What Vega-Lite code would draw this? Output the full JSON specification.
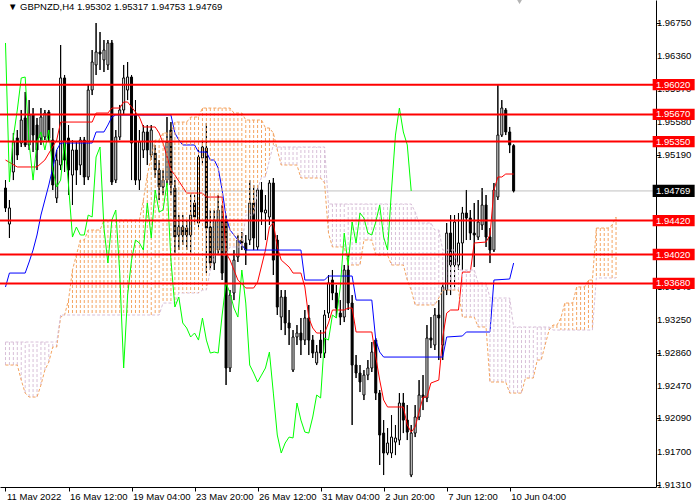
{
  "$schema": "https://vega.github.io/schema/vega-lite/v6.json",
  "width": 656,
  "height": 487,
  "padding": {"left": 0, "top": 0, "right": 44, "bottom": 13},
  "autosize": "none",
  "background": "white",
  "config": {"view": {"stroke": null}, "font": "Liberation Sans", "axis": {"grid": false, "title": null, "labelOverlap": false}},
  "datasets": {
    "candles": [
      {"i":0,"o":1.94803,"h":1.94897,"l":1.94521,"c":1.94568},
      {"i":1,"o":1.94379,"h":1.94662,"l":1.94215,"c":1.94568},
      {"i":2,"o":1.94992,"h":1.95451,"l":1.94897,"c":1.95345},
      {"i":3,"o":1.95392,"h":1.95486,"l":1.95133,"c":1.95192},
      {"i":4,"o":1.95333,"h":1.95722,"l":1.95286,"c":1.95604},
      {"i":5,"o":1.95628,"h":1.95934,"l":1.95286,"c":1.95310},
      {"i":6,"o":1.95310,"h":1.95839,"l":1.95251,"c":1.95663},
      {"i":7,"o":1.95663,"h":1.95745,"l":1.95227,"c":1.95427},
      {"i":8,"o":1.95545,"h":1.95628,"l":1.95015,"c":1.95251},
      {"i":9,"o":1.95392,"h":1.95745,"l":1.95310,"c":1.95639},
      {"i":10,"o":1.95404,"h":1.95722,"l":1.95368,"c":1.95686},
      {"i":11,"o":1.95698,"h":1.95722,"l":1.95345,"c":1.95392},
      {"i":12,"o":1.95368,"h":1.95510,"l":1.94780,"c":1.94839},
      {"i":13,"o":1.94686,"h":1.95251,"l":1.94627,"c":1.95133},
      {"i":14,"o":1.95074,"h":1.96487,"l":1.95015,"c":1.96099},
      {"i":15,"o":1.96099,"h":1.96134,"l":1.94992,"c":1.95133},
      {"i":16,"o":1.95392,"h":1.95545,"l":1.94721,"c":1.95015},
      {"i":17,"o":1.94956,"h":1.95368,"l":1.94603,"c":1.95251},
      {"i":18,"o":1.95251,"h":1.95345,"l":1.94839,"c":1.95015},
      {"i":19,"o":1.95074,"h":1.95404,"l":1.94956,"c":1.95368},
      {"i":20,"o":1.95368,"h":1.95404,"l":1.94839,"c":1.94933},
      {"i":21,"o":1.94933,"h":1.96016,"l":1.94897,"c":1.95957},
      {"i":22,"o":1.95957,"h":1.96428,"l":1.95898,"c":1.96287},
      {"i":23,"o":1.96252,"h":1.96746,"l":1.96134,"c":1.96405},
      {"i":24,"o":1.96405,"h":1.96640,"l":1.96193,"c":1.96381},
      {"i":25,"o":1.96311,"h":1.96546,"l":1.96169,"c":1.96428},
      {"i":26,"o":1.96252,"h":1.96546,"l":1.96193,"c":1.96511},
      {"i":27,"o":1.96511,"h":1.96546,"l":1.94839,"c":1.94874},
      {"i":28,"o":1.94897,"h":1.95486,"l":1.94862,"c":1.95404},
      {"i":29,"o":1.95404,"h":1.95781,"l":1.95368,"c":1.95722},
      {"i":30,"o":1.95722,"h":1.96252,"l":1.95663,"c":1.96099},
      {"i":31,"o":1.95957,"h":1.96287,"l":1.95839,"c":1.96110},
      {"i":32,"o":1.96110,"h":1.96134,"l":1.94897,"c":1.95333},
      {"i":33,"o":1.95663,"h":1.95839,"l":1.94839,"c":1.94897},
      {"i":34,"o":1.94897,"h":1.95486,"l":1.94780,"c":1.95345},
      {"i":35,"o":1.95251,"h":1.95545,"l":1.95157,"c":1.95463},
      {"i":36,"o":1.95463,"h":1.95545,"l":1.95074,"c":1.95251},
      {"i":37,"o":1.95192,"h":1.95545,"l":1.95133,"c":1.95486},
      {"i":38,"o":1.95215,"h":1.95310,"l":1.94921,"c":1.95015},
      {"i":39,"o":1.95015,"h":1.95133,"l":1.94662,"c":1.94815},
      {"i":40,"o":1.94815,"h":1.95015,"l":1.94721,"c":1.94897},
      {"i":41,"o":1.94897,"h":1.95639,"l":1.94839,"c":1.95345},
      {"i":42,"o":1.95486,"h":1.95580,"l":1.94721,"c":1.94839},
      {"i":43,"o":1.94803,"h":1.94897,"l":1.94038,"c":1.94226},
      {"i":44,"o":1.94250,"h":1.94485,"l":1.94073,"c":1.94344},
      {"i":45,"o":1.94344,"h":1.94485,"l":1.94132,"c":1.94250},
      {"i":46,"o":1.94332,"h":1.94427,"l":1.94073,"c":1.94250},
      {"i":47,"o":1.94250,"h":1.94744,"l":1.94038,"c":1.94485},
      {"i":48,"o":1.94627,"h":1.94721,"l":1.94368,"c":1.94462},
      {"i":49,"o":1.94391,"h":1.95251,"l":1.94332,"c":1.95168},
      {"i":50,"o":1.95157,"h":1.95368,"l":1.95074,"c":1.95286},
      {"i":51,"o":1.95274,"h":1.95569,"l":1.93802,"c":1.94332},
      {"i":52,"o":1.94344,"h":1.94544,"l":1.93838,"c":1.93920},
      {"i":53,"o":1.93920,"h":1.94544,"l":1.93838,"c":1.94427},
      {"i":54,"o":1.94073,"h":1.94721,"l":1.94014,"c":1.94544},
      {"i":55,"o":1.94427,"h":1.94603,"l":1.93720,"c":1.93802},
      {"i":56,"o":1.94427,"h":1.94485,"l":1.92484,"c":1.92684},
      {"i":57,"o":1.92684,"h":1.93602,"l":1.92637,"c":1.93543},
      {"i":58,"o":1.93567,"h":1.94073,"l":1.93484,"c":1.93955},
      {"i":59,"o":1.93991,"h":1.94250,"l":1.93932,"c":1.94191},
      {"i":60,"o":1.94191,"h":1.94285,"l":1.94073,"c":1.94156},
      {"i":61,"o":1.94156,"h":1.94250,"l":1.93897,"c":1.94073},
      {"i":62,"o":1.94191,"h":1.94897,"l":1.94132,"c":1.94627},
      {"i":63,"o":1.94627,"h":1.94839,"l":1.94073,"c":1.94215},
      {"i":64,"o":1.94109,"h":1.94839,"l":1.94073,"c":1.94780},
      {"i":65,"o":1.94780,"h":1.94874,"l":1.94368,"c":1.94521},
      {"i":66,"o":1.94509,"h":1.94721,"l":1.94191,"c":1.94544},
      {"i":67,"o":1.94462,"h":1.94897,"l":1.94368,"c":1.94862},
      {"i":68,"o":1.94862,"h":1.94921,"l":1.93779,"c":1.93955},
      {"i":69,"o":1.94191,"h":1.94250,"l":1.93308,"c":1.93402},
      {"i":70,"o":1.93284,"h":1.93602,"l":1.93131,"c":1.93520},
      {"i":71,"o":1.93520,"h":1.93602,"l":1.93072,"c":1.93214},
      {"i":72,"o":1.93214,"h":1.93367,"l":1.92955,"c":1.93155},
      {"i":73,"o":1.92660,"h":1.93131,"l":1.92637,"c":1.93049},
      {"i":74,"o":1.93049,"h":1.93190,"l":1.92955,"c":1.93096},
      {"i":75,"o":1.93096,"h":1.93273,"l":1.92837,"c":1.93013},
      {"i":76,"o":1.93013,"h":1.93367,"l":1.92955,"c":1.93273},
      {"i":77,"o":1.93273,"h":1.93426,"l":1.92837,"c":1.93013},
      {"i":78,"o":1.93013,"h":1.93072,"l":1.92802,"c":1.92860},
      {"i":79,"o":1.92743,"h":1.92955,"l":1.92719,"c":1.92872},
      {"i":80,"o":1.93013,"h":1.93131,"l":1.92802,"c":1.92860},
      {"i":81,"o":1.92860,"h":1.93367,"l":1.92802,"c":1.93308},
      {"i":82,"o":1.93331,"h":1.93779,"l":1.93273,"c":1.93685},
      {"i":83,"o":1.93720,"h":1.93838,"l":1.93484,"c":1.93567},
      {"i":84,"o":1.93567,"h":1.93661,"l":1.93273,"c":1.93390},
      {"i":85,"o":1.93331,"h":1.93484,"l":1.93190,"c":1.93284},
      {"i":86,"o":1.93284,"h":1.93897,"l":1.93225,"c":1.93838},
      {"i":87,"o":1.93838,"h":1.94014,"l":1.93367,"c":1.93449},
      {"i":88,"o":1.93449,"h":1.93543,"l":1.92013,"c":1.92719},
      {"i":89,"o":1.92719,"h":1.92837,"l":1.92566,"c":1.92625},
      {"i":90,"o":1.92625,"h":1.92719,"l":1.92401,"c":1.92519},
      {"i":91,"o":1.92366,"h":1.92660,"l":1.92307,"c":1.92601},
      {"i":92,"o":1.92601,"h":1.92778,"l":1.92542,"c":1.92684},
      {"i":93,"o":1.92684,"h":1.92990,"l":1.92637,"c":1.92872},
      {"i":94,"o":1.93013,"h":1.93037,"l":1.92307,"c":1.92389},
      {"i":95,"o":1.92389,"h":1.92425,"l":1.91542,"c":1.91895},
      {"i":96,"o":1.91918,"h":1.92071,"l":1.91424,"c":1.91683},
      {"i":97,"o":1.91683,"h":1.91977,"l":1.91659,"c":1.91801},
      {"i":98,"o":1.91683,"h":1.92130,"l":1.91624,"c":1.91871},
      {"i":99,"o":1.91812,"h":1.92013,"l":1.91659,"c":1.91860},
      {"i":100,"o":1.91836,"h":1.92389,"l":1.91777,"c":1.92272},
      {"i":101,"o":1.92272,"h":1.92389,"l":1.91918,"c":1.92071},
      {"i":102,"o":1.92071,"h":1.92248,"l":1.91836,"c":1.91930},
      {"i":103,"o":1.91424,"h":1.92013,"l":1.91400,"c":1.91918},
      {"i":104,"o":1.91918,"h":1.92248,"l":1.91871,"c":1.92107},
      {"i":105,"o":1.92107,"h":1.92542,"l":1.92071,"c":1.92366},
      {"i":106,"o":1.92366,"h":1.92601,"l":1.92189,"c":1.92331},
      {"i":107,"o":1.92331,"h":1.93190,"l":1.92283,"c":1.93037},
      {"i":108,"o":1.93037,"h":1.93284,"l":1.92919,"c":1.93013},
      {"i":109,"o":1.92955,"h":1.93390,"l":1.92896,"c":1.93308},
      {"i":110,"o":1.93308,"h":1.93484,"l":1.92778,"c":1.93273},
      {"i":111,"o":1.92955,"h":1.93685,"l":1.92778,"c":1.93638},
      {"i":112,"o":1.93602,"h":1.94391,"l":1.93543,"c":1.94273},
      {"i":113,"o":1.94273,"h":1.94485,"l":1.93543,"c":1.93897},
      {"i":114,"o":1.93897,"h":1.94485,"l":1.93602,"c":1.94403},
      {"i":115,"o":1.93897,"h":1.94509,"l":1.93838,"c":1.94156},
      {"i":116,"o":1.94156,"h":1.94580,"l":1.93838,"c":1.94509},
      {"i":117,"o":1.94509,"h":1.94780,"l":1.94191,"c":1.94450},
      {"i":118,"o":1.94450,"h":1.94544,"l":1.94191,"c":1.94273},
      {"i":119,"o":1.94273,"h":1.94627,"l":1.93873,"c":1.94250},
      {"i":120,"o":1.94226,"h":1.94662,"l":1.94191,"c":1.94403},
      {"i":121,"o":1.94368,"h":1.94803,"l":1.94309,"c":1.94603},
      {"i":122,"o":1.94603,"h":1.94721,"l":1.94109,"c":1.94226},
      {"i":123,"o":1.94226,"h":1.94332,"l":1.93920,"c":1.94073},
      {"i":124,"o":1.94073,"h":1.94862,"l":1.94050,"c":1.94780},
      {"i":125,"o":1.94697,"h":1.96016,"l":1.94662,"c":1.95427},
      {"i":126,"o":1.95427,"h":1.95839,"l":1.95404,"c":1.95745},
      {"i":127,"o":1.95722,"h":1.95745,"l":1.95427,"c":1.95463},
      {"i":128,"o":1.95463,"h":1.95522,"l":1.95215,"c":1.95310},
      {"i":129,"o":1.95302,"h":1.95317,"l":1.94753,"c":1.94769}
    ],
    "tenkan": [
      {"i":0,"v":1.95133},{"i":3,"v":1.95051},{"i":8,"v":1.95051},{"i":10,"v":1.95133},
      {"i":13,"v":1.95368},{"i":14,"v":1.95580},{"i":22,"v":1.95580},{"i":23,"v":1.95686},
      {"i":26,"v":1.95686},{"i":27,"v":1.95745},{"i":29,"v":1.95745},{"i":30,"v":1.95816},
      {"i":31,"v":1.95816},{"i":32,"v":1.95757},{"i":34,"v":1.95639},{"i":35,"v":1.95522},
      {"i":38,"v":1.95522},{"i":39,"v":1.95451},{"i":40,"v":1.95333},{"i":42,"v":1.95015},
      {"i":43,"v":1.94956},{"i":45,"v":1.94815},{"i":46,"v":1.94744},{"i":50,"v":1.94744},
      {"i":51,"v":1.94697},{"i":55,"v":1.94697},{"i":56,"v":1.94038},{"i":57,"v":1.93955},
      {"i":59,"v":1.93720},{"i":61,"v":1.93626},{"i":63,"v":1.93626},{"i":64,"v":1.93696},
      {"i":66,"v":1.94073},{"i":67,"v":1.94344},{"i":68,"v":1.94391},{"i":69,"v":1.94109},
      {"i":70,"v":1.93955},{"i":72,"v":1.93873},{"i":73,"v":1.93802},{"i":75,"v":1.93802},
      {"i":76,"v":1.93638},{"i":77,"v":1.93273},{"i":78,"v":1.93155},{"i":79,"v":1.93096},
      {"i":81,"v":1.93096},{"i":82,"v":1.93214},{"i":83,"v":1.93367},{"i":86,"v":1.93367},
      {"i":87,"v":1.93390},{"i":88,"v":1.93390},{"i":89,"v":1.93108},{"i":93,"v":1.93108},
      {"i":94,"v":1.92813},{"i":95,"v":1.92542},{"i":96,"v":1.92307},{"i":97,"v":1.92225},
      {"i":101,"v":1.92225},{"i":102,"v":1.92013},{"i":103,"v":1.91930},{"i":104,"v":1.91989},
      {"i":106,"v":1.92342},{"i":107,"v":1.92342},{"i":108,"v":1.92507},{"i":110,"v":1.92542},
      {"i":111,"v":1.93049},{"i":112,"v":1.93331},{"i":113,"v":1.93367},{"i":115,"v":1.93367},
      {"i":116,"v":1.93814},{"i":118,"v":1.93814},{"i":119,"v":1.94156},{"i":122,"v":1.94167},
      {"i":123,"v":1.94250},{"i":124,"v":1.94780},{"i":125,"v":1.94933},{"i":126,"v":1.94933},
      {"i":127,"v":1.94968},{"i":129,"v":1.94968}
    ],
    "kijun": [
      {"i":0,"v":1.93638},{"i":1,"v":1.93802},{"i":5,"v":1.93802},{"i":6,"v":1.93932},
      {"i":7,"v":1.94073},{"i":8,"v":1.94250},{"i":9,"v":1.94485},{"i":10,"v":1.94662},
      {"i":11,"v":1.94839},{"i":12,"v":1.95039},{"i":13,"v":1.95251},{"i":14,"v":1.95333},
      {"i":22,"v":1.95333},{"i":23,"v":1.95463},{"i":25,"v":1.95463},{"i":26,"v":1.95545},
      {"i":27,"v":1.95639},{"i":28,"v":1.95663},{"i":42,"v":1.95663},{"i":43,"v":1.95451},
      {"i":44,"v":1.95368},{"i":45,"v":1.95310},{"i":48,"v":1.95310},{"i":49,"v":1.95227},
      {"i":51,"v":1.95227},{"i":52,"v":1.95133},{"i":53,"v":1.95133},{"i":54,"v":1.95039},
      {"i":55,"v":1.94780},{"i":56,"v":1.94462},{"i":57,"v":1.94309},{"i":59,"v":1.94191},
      {"i":60,"v":1.94132},{"i":61,"v":1.94073},{"i":75,"v":1.94073},{"i":76,"v":1.93720},
      {"i":81,"v":1.93720},{"i":82,"v":1.93767},{"i":88,"v":1.93767},{"i":89,"v":1.93484},
      {"i":93,"v":1.93484},{"i":94,"v":1.93013},{"i":95,"v":1.92872},{"i":96,"v":1.92813},
      {"i":111,"v":1.92813},{"i":112,"v":1.93049},{"i":116,"v":1.93061},{"i":117,"v":1.93108},
      {"i":123,"v":1.93108},{"i":124,"v":1.93720},{"i":128,"v":1.93732},{"i":129,"v":1.93920}
    ],
    "chikou": [
      {"i":0,"v":1.96511},{"i":1,"v":1.94874},{"i":2,"v":1.95404},{"i":3,"v":1.95722},
      {"i":4,"v":1.96099},{"i":5,"v":1.96110},{"i":6,"v":1.95333},{"i":7,"v":1.94897},
      {"i":8,"v":1.95345},{"i":9,"v":1.95463},{"i":10,"v":1.95251},{"i":11,"v":1.95486},
      {"i":12,"v":1.95015},{"i":13,"v":1.94815},{"i":14,"v":1.94897},{"i":15,"v":1.95345},
      {"i":16,"v":1.94839},{"i":17,"v":1.94226},{"i":18,"v":1.94344},{"i":19,"v":1.94250},
      {"i":20,"v":1.94250},{"i":21,"v":1.94485},{"i":22,"v":1.94462},{"i":23,"v":1.95168},
      {"i":24,"v":1.95286},{"i":25,"v":1.94332},{"i":26,"v":1.93920},{"i":27,"v":1.94427},
      {"i":28,"v":1.94544},{"i":29,"v":1.93802},{"i":30,"v":1.92684},{"i":31,"v":1.93543},
      {"i":32,"v":1.93955},{"i":33,"v":1.94191},{"i":34,"v":1.94156},{"i":35,"v":1.94073},
      {"i":36,"v":1.94627},{"i":37,"v":1.94215},{"i":38,"v":1.94780},{"i":39,"v":1.94521},
      {"i":40,"v":1.94544},{"i":41,"v":1.94862},{"i":42,"v":1.93955},{"i":43,"v":1.93402},
      {"i":44,"v":1.93520},{"i":45,"v":1.93214},{"i":46,"v":1.93155},{"i":47,"v":1.93049},
      {"i":48,"v":1.93096},{"i":49,"v":1.93013},{"i":50,"v":1.93273},{"i":51,"v":1.93013},
      {"i":52,"v":1.92860},{"i":53,"v":1.92872},{"i":54,"v":1.92860},{"i":55,"v":1.93308},
      {"i":56,"v":1.93685},{"i":57,"v":1.93567},{"i":58,"v":1.93390},{"i":59,"v":1.93284},
      {"i":60,"v":1.93838},{"i":61,"v":1.93449},{"i":62,"v":1.92719},{"i":63,"v":1.92625},
      {"i":64,"v":1.92519},{"i":65,"v":1.92601},{"i":66,"v":1.92684},{"i":67,"v":1.92872},
      {"i":68,"v":1.92389},{"i":69,"v":1.91895},{"i":70,"v":1.91683},{"i":71,"v":1.91801},
      {"i":72,"v":1.91871},{"i":73,"v":1.91860},{"i":74,"v":1.92272},{"i":75,"v":1.92071},
      {"i":76,"v":1.91930},{"i":77,"v":1.91918},{"i":78,"v":1.92107},{"i":79,"v":1.92366},
      {"i":80,"v":1.92331},{"i":81,"v":1.93037},{"i":82,"v":1.93013},{"i":83,"v":1.93308},
      {"i":84,"v":1.93273},{"i":85,"v":1.93638},{"i":86,"v":1.94273},{"i":87,"v":1.93897},
      {"i":88,"v":1.94403},{"i":89,"v":1.94156},{"i":90,"v":1.94509},{"i":91,"v":1.94450},
      {"i":92,"v":1.94273},{"i":93,"v":1.94250},{"i":94,"v":1.94403},{"i":95,"v":1.94603},
      {"i":96,"v":1.94226},{"i":97,"v":1.94073},{"i":98,"v":1.94780},{"i":99,"v":1.95427},
      {"i":100,"v":1.95745},{"i":101,"v":1.95463},{"i":102,"v":1.95310},{"i":103,"v":1.94769}
    ],
    "cloud": [
      {"i":0,"sa":1.92719,"sb":1.92990},{"i":1,"sa":1.92719,"sb":1.92990},{"i":2,"sa":1.92719,"sb":1.92990},
      {"i":3,"sa":1.92719,"sb":1.92990},{"i":4,"sa":1.92542,"sb":1.92990},{"i":5,"sa":1.92389,"sb":1.92990},
      {"i":6,"sa":1.92342,"sb":1.92990},{"i":7,"sa":1.92342,"sb":1.92990},{"i":8,"sa":1.92342,"sb":1.92990},
      {"i":9,"sa":1.92484,"sb":1.92990},{"i":10,"sa":1.92660,"sb":1.92990},{"i":11,"sa":1.92754,"sb":1.92990},
      {"i":12,"sa":1.92931,"sb":1.92990},{"i":13,"sa":1.92931,"sb":1.92990},{"i":14,"sa":1.93284,"sb":1.93308},
      {"i":15,"sa":1.93308,"sb":1.93308},{"i":16,"sa":1.93484,"sb":1.93308},{"i":17,"sa":1.93838,"sb":1.93308},
      {"i":18,"sa":1.94014,"sb":1.93308},{"i":19,"sa":1.94191,"sb":1.93308},{"i":20,"sa":1.94191,"sb":1.93308},
      {"i":21,"sa":1.94309,"sb":1.93308},{"i":22,"sa":1.94309,"sb":1.93308},{"i":23,"sa":1.94309,"sb":1.93308},
      {"i":24,"sa":1.94309,"sb":1.93308},{"i":25,"sa":1.94427,"sb":1.93308},{"i":26,"sa":1.94427,"sb":1.93308},
      {"i":27,"sa":1.94427,"sb":1.93308},{"i":28,"sa":1.94427,"sb":1.93308},{"i":29,"sa":1.94427,"sb":1.93308},
      {"i":30,"sa":1.94427,"sb":1.93308},{"i":31,"sa":1.94427,"sb":1.93308},{"i":32,"sa":1.94427,"sb":1.93308},
      {"i":33,"sa":1.94427,"sb":1.93308},{"i":34,"sa":1.94427,"sb":1.93308},{"i":35,"sa":1.94662,"sb":1.93308},
      {"i":36,"sa":1.94956,"sb":1.93308},{"i":37,"sa":1.95168,"sb":1.93308},{"i":38,"sa":1.95368,"sb":1.93308},
      {"i":39,"sa":1.95368,"sb":1.93308},{"i":40,"sa":1.95451,"sb":1.93449},{"i":41,"sa":1.95451,"sb":1.93449},
      {"i":42,"sa":1.95451,"sb":1.93449},{"i":43,"sa":1.95580,"sb":1.93449},{"i":44,"sa":1.95580,"sb":1.93567},
      {"i":45,"sa":1.95580,"sb":1.93567},{"i":46,"sa":1.95580,"sb":1.93567},{"i":47,"sa":1.95639,"sb":1.93567},
      {"i":48,"sa":1.95639,"sb":1.93567},{"i":49,"sa":1.95639,"sb":1.93567},{"i":50,"sa":1.95745,"sb":1.93602},
      {"i":51,"sa":1.95745,"sb":1.93602},{"i":52,"sa":1.95745,"sb":1.93838},{"i":53,"sa":1.95745,"sb":1.94014},
      {"i":54,"sa":1.95745,"sb":1.94014},{"i":55,"sa":1.95745,"sb":1.94014},{"i":56,"sa":1.95745,"sb":1.94014},
      {"i":57,"sa":1.95745,"sb":1.94109},{"i":58,"sa":1.95686,"sb":1.94109},{"i":59,"sa":1.95686,"sb":1.94109},
      {"i":60,"sa":1.95686,"sb":1.94109},{"i":61,"sa":1.95604,"sb":1.94485},{"i":62,"sa":1.95604,"sb":1.94485},
      {"i":63,"sa":1.95604,"sb":1.94485},{"i":64,"sa":1.95604,"sb":1.94780},{"i":65,"sa":1.95604,"sb":1.94933},
      {"i":66,"sa":1.95510,"sb":1.94933},{"i":67,"sa":1.95510,"sb":1.95133},{"i":68,"sa":1.95451,"sb":1.95310},
      {"i":69,"sa":1.95251,"sb":1.95286},{"i":70,"sa":1.95074,"sb":1.95286},{"i":71,"sa":1.95074,"sb":1.95286},
      {"i":72,"sa":1.95074,"sb":1.95286},{"i":73,"sa":1.95074,"sb":1.95286},{"i":74,"sa":1.95074,"sb":1.95286},
      {"i":75,"sa":1.94921,"sb":1.95286},{"i":76,"sa":1.94921,"sb":1.95286},{"i":77,"sa":1.94921,"sb":1.95286},
      {"i":78,"sa":1.94921,"sb":1.95286},{"i":79,"sa":1.94921,"sb":1.95286},{"i":80,"sa":1.94921,"sb":1.95286},
      {"i":81,"sa":1.94862,"sb":1.95286},{"i":82,"sa":1.94273,"sb":1.94615},{"i":83,"sa":1.94109,"sb":1.94615},
      {"i":84,"sa":1.94109,"sb":1.94615},{"i":85,"sa":1.94109,"sb":1.94615},{"i":86,"sa":1.94109,"sb":1.94615},
      {"i":87,"sa":1.93897,"sb":1.94615},{"i":88,"sa":1.93897,"sb":1.94615},{"i":89,"sa":1.93897,"sb":1.94615},
      {"i":90,"sa":1.93897,"sb":1.94615},{"i":91,"sa":1.94191,"sb":1.94615},{"i":92,"sa":1.94191,"sb":1.94615},
      {"i":93,"sa":1.94191,"sb":1.94615},{"i":94,"sa":1.94014,"sb":1.94615},{"i":95,"sa":1.94014,"sb":1.94615},
      {"i":96,"sa":1.94014,"sb":1.94615},{"i":97,"sa":1.94014,"sb":1.94615},{"i":98,"sa":1.93897,"sb":1.94615},
      {"i":99,"sa":1.93897,"sb":1.94615},{"i":100,"sa":1.93897,"sb":1.94615},{"i":101,"sa":1.93897,"sb":1.94615},
      {"i":102,"sa":1.93720,"sb":1.94615},{"i":103,"sa":1.93602,"sb":1.94615},{"i":104,"sa":1.93426,"sb":1.94521},
      {"i":105,"sa":1.93426,"sb":1.94391},{"i":106,"sa":1.93426,"sb":1.94391},{"i":107,"sa":1.93426,"sb":1.94391},
      {"i":108,"sa":1.93426,"sb":1.94391},{"i":109,"sa":1.93426,"sb":1.94309},{"i":110,"sa":1.93508,"sb":1.94309},
      {"i":111,"sa":1.93602,"sb":1.94073},{"i":112,"sa":1.93602,"sb":1.94073},{"i":113,"sa":1.93602,"sb":1.94073},
      {"i":114,"sa":1.93602,"sb":1.94073},{"i":115,"sa":1.93602,"sb":1.93838},{"i":116,"sa":1.93284,"sb":1.93838},
      {"i":117,"sa":1.93284,"sb":1.93838},{"i":118,"sa":1.93284,"sb":1.93838},{"i":119,"sa":1.93284,"sb":1.93838},
      {"i":120,"sa":1.93167,"sb":1.93685},{"i":121,"sa":1.93167,"sb":1.93685},{"i":122,"sa":1.93167,"sb":1.93685},
      {"i":123,"sa":1.92519,"sb":1.93508},{"i":124,"sa":1.92519,"sb":1.93508},{"i":125,"sa":1.92519,"sb":1.93508},
      {"i":126,"sa":1.92519,"sb":1.93508},{"i":127,"sa":1.92519,"sb":1.93508},{"i":128,"sa":1.92389,"sb":1.93508},
      {"i":129,"sa":1.92389,"sb":1.93167},{"i":130,"sa":1.92389,"sb":1.93167},{"i":131,"sa":1.92389,"sb":1.93167},
      {"i":132,"sa":1.92566,"sb":1.93167},{"i":133,"sa":1.92566,"sb":1.93167},{"i":134,"sa":1.92566,"sb":1.93167},
      {"i":135,"sa":1.92778,"sb":1.93167},{"i":136,"sa":1.92778,"sb":1.93167},{"i":137,"sa":1.92955,"sb":1.93167},
      {"i":138,"sa":1.93131,"sb":1.93167},{"i":139,"sa":1.93190,"sb":1.93131},{"i":140,"sa":1.93190,"sb":1.93131},
      {"i":141,"sa":1.93273,"sb":1.93131},{"i":142,"sa":1.93449,"sb":1.93131},{"i":143,"sa":1.93449,"sb":1.93131},
      {"i":144,"sa":1.93449,"sb":1.93131},{"i":145,"sa":1.93638,"sb":1.93131},{"i":146,"sa":1.93638,"sb":1.93131},
      {"i":147,"sa":1.93638,"sb":1.93131},{"i":148,"sa":1.93720,"sb":1.93131},{"i":149,"sa":1.93720,"sb":1.93131},
      {"i":150,"sa":1.94332,"sb":1.93744},{"i":151,"sa":1.94332,"sb":1.93744},{"i":152,"sa":1.94332,"sb":1.93744},
      {"i":153,"sa":1.94332,"sb":1.93744},{"i":154,"sa":1.94368,"sb":1.93744},{"i":155,"sa":1.94462,"sb":1.93744}
    ],
    "levels": [{"p":1.9602},{"p":1.9567},{"p":1.9535},{"p":1.9442},{"p":1.9402},{"p":1.9368}],
    "bid": [{"p":1.94769}],
    "yticks": [{"p":1.9131},{"p":1.917},{"p":1.9209},{"p":1.9247},{"p":1.9286},{"p":1.9325},{"p":1.9364},{"p":1.9402},{"p":1.9441},{"p":1.948},{"p":1.9519},{"p":1.9558},{"p":1.9597},{"p":1.9636},{"p":1.9675}],
    "header": [{"t":"▼  GBPNZD,H4  1.95302 1.95317 1.94753 1.94769"}]
  },
  "layer": [
    {
      "data": {"name": "candles"},
      "mark": {"type": "rule", "color": "black", "strokeWidth": 1},
      "encoding": {
        "x": {
          "field": "i", "type": "quantitative", "title": null,
          "scale": {"domain": [-0.125, 163.875], "nice": false, "zero": false},
          "axis": {
            "title": null, "grid": false, "orient": "bottom",
            "values": [0, 16, 32, 48, 64, 80, 96, 112, 128],
            "labelExpr": "['11 May 2022','16 May 12:00','19 May 04:00','23 May 20:00','26 May 12:00','31 May 04:00','2 Jun 20:00','7 Jun 12:00','10 Jun 04:00'][datum.value / 16]",
            "labelAlign": "left", "labelBaseline": "top", "labelPadding": 0, "labelOffset": 1,
            "labelFlush": false, "labelOverlap": false,
            "labelFont": "Liberation Sans", "labelFontSize": 9.5, "labelColor": "black",
            "tickSize": 4, "tickColor": "black", "domainColor": "black"
          }
        },
        "y": {
          "field": "l", "type": "quantitative", "title": null,
          "scale": {"domain": [1.91283, 1.97017], "nice": false, "zero": false},
          "axis": {
            "title": null, "grid": false, "orient": "right", "labels": false,
            "values": [1.9131, 1.917, 1.9209, 1.9247, 1.9286, 1.9325, 1.9364, 1.9402, 1.9441, 1.948, 1.9519, 1.9558, 1.9597, 1.9636, 1.9675],
            "tickSize": 4, "tickColor": "black", "domainColor": "black"
          }
        },
        "y2": {"field": "h"}
      }
    },
    {
      "data": {"name": "bid"},
      "mark": {"type": "rule", "color": "#C0C0C0", "strokeWidth": 1},
      "encoding": {
        "y": {"field": "p", "type": "quantitative", "title": null, "scale": {"domain": [1.91283, 1.97017], "nice": false, "zero": false}}
      }
    },
    {
      "data": {"name": "candles"},
      "mark": {"type": "rule", "color": "black", "strokeWidth": 1},
      "encoding": {
        "x": {"field": "i", "type": "quantitative", "title": null, "scale": {"domain": [-0.125, 163.875], "nice": false, "zero": false}},
        "y": {"field": "l", "type": "quantitative", "title": null, "scale": {"domain": [1.91283, 1.97017], "nice": false, "zero": false}},
        "y2": {"field": "h"}
      }
    },
    {
      "data": {"name": "candles"},
      "mark": {"type": "bar", "width": 2, "stroke": "black", "strokeWidth": 1},
      "encoding": {
        "x": {"field": "i", "type": "quantitative", "title": null, "scale": {"domain": [-0.125, 163.875], "nice": false, "zero": false}},
        "y": {"field": "o", "type": "quantitative", "title": null, "scale": {"domain": [1.91283, 1.97017], "nice": false, "zero": false}},
        "y2": {"field": "c"},
        "fill": {"condition": {"test": "datum.c >= datum.o", "value": "white"}, "value": "black"}
      }
    },
    {
      "data": {"name": "tenkan"},
      "mark": {"type": "line", "color": "#FF0000", "strokeWidth": 1},
      "encoding": {
        "x": {"field": "i", "type": "quantitative", "title": null, "scale": {"domain": [-0.125, 163.875], "nice": false, "zero": false}},
        "y": {"field": "v", "type": "quantitative", "title": null, "scale": {"domain": [1.91283, 1.97017], "nice": false, "zero": false}}
      }
    },
    {
      "data": {"name": "kijun"},
      "mark": {"type": "line", "color": "#0000FF", "strokeWidth": 1},
      "encoding": {
        "x": {"field": "i", "type": "quantitative", "title": null, "scale": {"domain": [-0.125, 163.875], "nice": false, "zero": false}},
        "y": {"field": "v", "type": "quantitative", "title": null, "scale": {"domain": [1.91283, 1.97017], "nice": false, "zero": false}}
      }
    },
    {
      "data": {"name": "cloud"},
      "mark": {"type": "rule", "strokeWidth": 1, "strokeDash": [3, 2]},
      "encoding": {
        "x": {"field": "i", "type": "quantitative", "title": null, "scale": {"domain": [-0.125, 163.875], "nice": false, "zero": false}},
        "y": {"field": "sa", "type": "quantitative", "title": null, "scale": {"domain": [1.91283, 1.97017], "nice": false, "zero": false}},
        "y2": {"field": "sb"},
        "color": {"condition": {"test": "datum.sa >= datum.sb", "value": "#F4A460"}, "value": "#D8BFD8"}
      }
    },
    {
      "data": {"name": "cloud"},
      "mark": {"type": "line", "color": "#F4A460", "strokeWidth": 1, "strokeDash": [3, 2]},
      "encoding": {
        "x": {"field": "i", "type": "quantitative", "title": null, "scale": {"domain": [-0.125, 163.875], "nice": false, "zero": false}},
        "y": {"field": "sa", "type": "quantitative", "title": null, "scale": {"domain": [1.91283, 1.97017], "nice": false, "zero": false}}
      }
    },
    {
      "data": {"name": "cloud"},
      "mark": {"type": "line", "color": "#D8BFD8", "strokeWidth": 1, "strokeDash": [3, 2]},
      "encoding": {
        "x": {"field": "i", "type": "quantitative", "title": null, "scale": {"domain": [-0.125, 163.875], "nice": false, "zero": false}},
        "y": {"field": "sb", "type": "quantitative", "title": null, "scale": {"domain": [1.91283, 1.97017], "nice": false, "zero": false}}
      }
    },
    {
      "data": {"name": "chikou"},
      "mark": {"type": "line", "color": "#00FF00", "strokeWidth": 1},
      "encoding": {
        "x": {"field": "i", "type": "quantitative", "title": null, "scale": {"domain": [-0.125, 163.875], "nice": false, "zero": false}},
        "y": {"field": "v", "type": "quantitative", "title": null, "scale": {"domain": [1.91283, 1.97017], "nice": false, "zero": false}}
      }
    },
    {
      "data": {"name": "levels"},
      "mark": {"type": "rule", "color": "#FF0000", "strokeWidth": 2},
      "encoding": {
        "y": {"field": "p", "type": "quantitative", "title": null, "scale": {"domain": [1.91283, 1.97017], "nice": false, "zero": false}}
      }
    },
    {
      "data": {"name": "yticks"},
      "mark": {"type": "text", "color": "black", "font": "Liberation Sans", "fontSize": 9.5, "align": "left", "baseline": "middle"},
      "encoding": {
        "x": {"datum": 165.375, "type": "quantitative", "title": null, "scale": {"domain": [-0.125, 163.875], "nice": false, "zero": false}},
        "y": {"field": "p", "type": "quantitative", "title": null, "scale": {"domain": [1.91283, 1.97017], "nice": false, "zero": false}},
        "text": {"field": "p", "type": "quantitative", "format": ".5f"}
      }
    },
    {
      "data": {"name": "levels"},
      "mark": {"type": "point", "shape": "M-1,-0.27H1V0.27H-1Z", "filled": true, "size": 1764, "color": "#FF0000", "opacity": 1},
      "encoding": {
        "x": {"datum": 169.625, "type": "quantitative", "title": null, "scale": {"domain": [-0.125, 163.875], "nice": false, "zero": false}},
        "y": {"field": "p", "type": "quantitative", "title": null, "scale": {"domain": [1.91283, 1.97017], "nice": false, "zero": false}}
      }
    },
    {
      "data": {"name": "bid"},
      "mark": {"type": "point", "shape": "M-1,-0.29H1V0.29H-1Z", "filled": true, "size": 1764, "color": "black", "opacity": 1},
      "encoding": {
        "x": {"datum": 169.625, "type": "quantitative", "title": null, "scale": {"domain": [-0.125, 163.875], "nice": false, "zero": false}},
        "y": {"field": "p", "type": "quantitative", "title": null, "scale": {"domain": [1.91283, 1.97017], "nice": false, "zero": false}}
      }
    },
    {
      "data": {"name": "levels"},
      "mark": {"type": "text", "color": "white", "font": "Liberation Sans", "fontSize": 9.5, "align": "center", "baseline": "middle"},
      "encoding": {
        "x": {"datum": 169.5, "type": "quantitative", "title": null, "scale": {"domain": [-0.125, 163.875], "nice": false, "zero": false}},
        "y": {"field": "p", "type": "quantitative", "title": null, "scale": {"domain": [1.91283, 1.97017], "nice": false, "zero": false}},
        "text": {"field": "p", "type": "quantitative", "format": ".5f"}
      }
    },
    {
      "data": {"name": "bid"},
      "mark": {"type": "text", "color": "white", "font": "Liberation Sans", "fontSize": 9.5, "align": "center", "baseline": "middle"},
      "encoding": {
        "x": {"datum": 169.5, "type": "quantitative", "title": null, "scale": {"domain": [-0.125, 163.875], "nice": false, "zero": false}},
        "y": {"field": "p", "type": "quantitative", "title": null, "scale": {"domain": [1.91283, 1.97017], "nice": false, "zero": false}},
        "text": {"field": "p", "type": "quantitative", "format": ".5f"}
      }
    },
    {
      "data": {"name": "header"},
      "mark": {"type": "text", "color": "black", "font": "Liberation Sans", "fontSize": 9.5, "align": "left", "baseline": "middle"},
      "encoding": {
        "x": {"datum": 0.625, "type": "quantitative", "title": null, "scale": {"domain": [-0.125, 163.875], "nice": false, "zero": false}},
        "y": {"datum": 1.96935, "type": "quantitative", "title": null, "scale": {"domain": [1.91283, 1.97017], "nice": false, "zero": false}},
        "text": {"field": "t"}
      }
    },
    {
      "data": {"values": [{}]},
      "mark": {"type": "point", "shape": "triangle-down", "filled": true, "size": 90, "color": "#B4B4B4", "opacity": 1},
      "encoding": {
        "x": {"datum": 130.5, "type": "quantitative", "title": null, "scale": {"domain": [-0.125, 163.875], "nice": false, "zero": false}},
        "y": {"datum": 1.97017, "type": "quantitative", "title": null, "scale": {"domain": [1.91283, 1.97017], "nice": false, "zero": false}}
      }
    }
  ]
}
